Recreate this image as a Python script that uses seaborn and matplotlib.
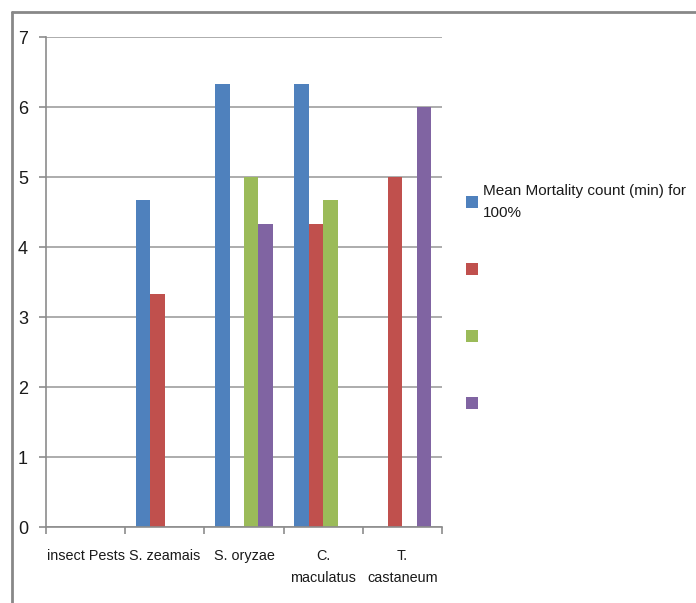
import matplotlib
matplotlib.use("Agg")
import matplotlib.pyplot as plt
from matplotlib.lines import Line2D
from matplotlib.patches import Patch
import seaborn as sns
import pandas as pd

# Categories along the x axis
categories = ["insect Pests", "S. zeamais", "S. oryzae", "C.\nmaculatus", "T.\ncastaneum"]

# Mean mortality counts per series (0 = no bar)
series_1 = [0, 4.67, 6.33, 6.33, 0]
series_2 = [0, 3.33, 0, 4.33, 5]
series_3 = [0, 0, 5, 4.67, 0]
series_4 = [0, 0, 4.33, 0, 6]

series_keys = ["s1", "s2", "s3", "s4"]
legend_labels = ["Mean Mortality count (min) for\n100%", " \n ", " \n ", " \n "]
colors = ["#4F81BD", "#C0504D", "#9BBB59", "#8064A2"]

y_ticks = [0, 1, 2, 3, 4, 5, 6, 7]

rows = []
for key, vals in zip(series_keys, [series_1, series_2, series_3, series_4]):
    for cat, v in zip(categories, vals):
        rows.append({"category": cat, "series": key, "value": v})
df = pd.DataFrame(rows)

sns.set_style("white")
plt.rcParams["font.family"] = ["Liberation Sans", "DejaVu Sans"]

fig = plt.figure(figsize=(6.96, 6.03), dpi=100)
ax = fig.add_axes([46 / 696, 1 - 527 / 603, (442 - 46) / 696, (527 - 37) / 603])

sns.barplot(data=df, x="category", y="value", hue="series", order=categories,
            hue_order=series_keys, palette=colors, width=4 / 5.5,
            linewidth=0, saturation=1, ax=ax, legend=False)

ax.set_ylim(0, 7)
ax.set_xlim(-0.5, len(categories) - 0.5)
ax.set_yticks(y_ticks)
ax.set_yticklabels([str(t) for t in y_ticks])
ax.set_xlabel("")
ax.set_ylabel("")

grid_c = "#A6A6A6"
axis_c = "#8C8C8C"
ax.yaxis.grid(True, color=grid_c, linewidth=1.3)
ax.set_axisbelow(True)
for s in ["top", "right"]:
    ax.spines[s].set_visible(False)
for s in ["left", "bottom"]:
    ax.spines[s].set_color(axis_c)
    ax.spines[s].set_linewidth(1.2)

# category boundary ticks below the x axis
ax.set_xticks([i - 0.5 for i in range(len(categories) + 1)], minor=True)
ax.tick_params(axis="x", which="minor", length=5, color=axis_c, width=1.2, direction="out", bottom=True)
ax.tick_params(axis="x", which="major", length=0, pad=16, labelsize=10.4, labelcolor="#1a1a1a")
for lab in ax.get_xticklabels():
    lab.set_linespacing(1.75)
ax.tick_params(axis="y", which="major", length=5, color=axis_c, width=1.2, direction="out",
               left=True, pad=8, labelsize=13, labelcolor="#1a1a1a")

handles = [Patch(facecolor=c, edgecolor="none") for c in colors]
leg = fig.legend(handles, legend_labels, loc="upper left", bbox_to_anchor=(466 / 696, 1 - 184 / 603),
                 frameon=False, fontsize=11, handlelength=0.8, handleheight=0.8,
                 handletextpad=0.3, labelspacing=2.0, borderaxespad=0, borderpad=0)
for t in leg.get_texts():
    t.set_color("#1a1a1a")
    t.set_linespacing(1.75)

# outer chart frame (top and left edges)
fig.add_artist(Line2D([12 / 696, 1.0], [1 - 12 / 603, 1 - 12 / 603], transform=fig.transFigure,
                      color="#888888", linewidth=2))
fig.add_artist(Line2D([12 / 696, 12 / 696], [1 - 12 / 603, 0], transform=fig.transFigure,
                      color="#888888", linewidth=2))

fig.savefig("out.png", dpi=100)
